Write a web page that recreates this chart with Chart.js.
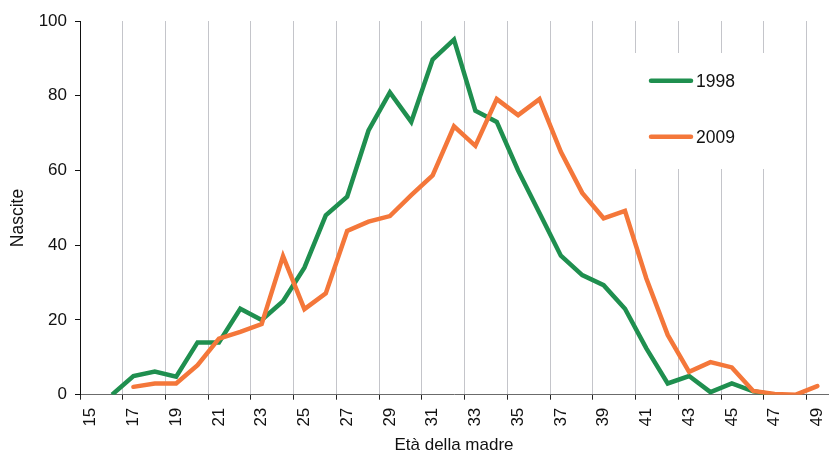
<!DOCTYPE html>
<html>
<head>
<meta charset="utf-8">
<script src="https://cdn.jsdelivr.net/npm/chart.js@4"></script>
<style>
  html, body { margin: 0; padding: 0; background: #fff; }
  #wrap { width: 829px; height: 456px; position: relative; }
</style>
</head>
<body>
<div id="wrap"><canvas id="c" width="829" height="456"></canvas></div>
<script>
const ages = ['15','16','17','18','19','20','21','22','23','24','25','26','27','28','29','30','31','32','33','34','35','36','37','38','39','40','41','42','43','44','45','46','47','48','49'];
const births1998 = [null, 0, 5, 6.2, 4.8, 14, 14, 23, 20, 25, 34, 48, 53, 70.7, 80.9, 73, 89.7, 95, 76, 73, 60, 48.6, 37.2, 32, 29.3, 23, 12.4, 3, 5, 0.7, 3, 0.9, 0, null, null];
const births2009 = [null, null, 2.1, 3, 3, 7.9, 15, 16.8, 18.9, 37.1, 22.9, 27.1, 43.8, 46.3, 47.8, 53.4, 58.7, 71.8, 66.6, 79.1, 74.8, 79.1, 65, 54, 47.2, 49.2, 31.1, 16, 6.1, 8.7, 7.3, 1, 0.2, 0, 2.3];
const yTicks = [0, 20, 40, 60, 80, 100];
const seriesNames = ['1998', '2009'];
const seriesColors = ['#1f8f4f', '#f4773a'];

const FONT = "'Liberation Sans', Arial, Helvetica, sans-serif";

const overlayPlugin = {
  id: 'overlay',
  beforeDatasetsDraw(chart) {
    const ctx = chart.ctx;
    ctx.save();
    ctx.fillStyle = '#ffffff';
    ctx.fillRect(626, 53, 166, 116);
    const items = [{y: 80.7}, {y: 136.7}];
    items.forEach((it, i) => {
      ctx.strokeStyle = seriesColors[i];
      ctx.lineWidth = 4.5;
      ctx.lineCap = 'round';
      ctx.beginPath();
      ctx.moveTo(651, it.y);
      ctx.lineTo(691, it.y);
      ctx.stroke();
      ctx.fillStyle = '#111';
      ctx.font = '17.5px ' + FONT;
      ctx.textAlign = 'left';
      ctx.textBaseline = 'alphabetic';
      ctx.fillText(seriesNames[i], 696, it.y + 6.5);
    });
    ctx.translate(18, 218);
    ctx.rotate(-Math.PI / 2);
    ctx.fillStyle = '#111';
    ctx.font = '17.5px ' + FONT;
    ctx.textAlign = 'center';
    ctx.textBaseline = 'middle';
    ctx.fillText('Nascite', 0, 0);
    ctx.restore();
  }
};

const gridCol = (ctx, c) => (ctx.index !== undefined && ctx.index % 2 === 0) ? c : 'rgba(0,0,0,0)';

new Chart(document.getElementById('c'), {
  type: 'line',
  data: {
    labels: ages,
    datasets: [
      { label: seriesNames[0], data: births1998, borderColor: seriesColors[0], backgroundColor: seriesColors[0], borderWidth: 4.5, pointRadius: 0, tension: 0, order: 1, borderJoinStyle: 'miter', borderCapStyle: 'butt', spanGaps: false },
      { label: seriesNames[1], data: births2009, borderColor: seriesColors[1], backgroundColor: seriesColors[1], borderWidth: 4.5, pointRadius: 0, tension: 0, order: 0, borderJoinStyle: 'miter', borderCapStyle: 'round', spanGaps: false }
    ]
  },
  options: {
    responsive: false,
    animation: false,
    devicePixelRatio: 1,
    layout: { padding: { top: 21, right: 1, left: 0, bottom: 0 } },
    plugins: { legend: { display: false }, tooltip: { enabled: false } },
    scales: {
      x: {
        type: 'category',
        offset: true,
        grid: {
          offset: true,
          drawOnChartArea: true,
          drawTicks: true,
          tickLength: 5,
          lineWidth: 1,
          color: (ctx) => gridCol(ctx, '#c4c5ca'),
          tickColor: (ctx) => gridCol(ctx, '#222')
        },
        border: { display: true, color: '#6b6b6b', width: 1 },
        ticks: {
          autoSkip: false,
          maxRotation: 90,
          minRotation: 90,
          padding: 8,
          color: '#111',
          font: { family: FONT, size: 17 },
          callback: function(val, idx) { return idx % 2 === 0 ? this.getLabelForValue(val) : ''; }
        },
        title: {
          display: true,
          text: 'Età della madre',
          color: '#111',
          font: { family: FONT, size: 17 },
          padding: { top: 0, bottom: 0 }
        },
        afterFit: (s) => { s.height = 61.3; s.paddingLeft = 0; s.paddingRight = 0; }
      },
      y: {
        min: 0,
        max: 100,
        afterBuildTicks: (s) => { s.ticks = yTicks.map(v => ({ value: v })); },
        grid: { drawOnChartArea: false, drawTicks: true, tickLength: 5, tickColor: '#111' },
        border: { display: true, color: '#111', width: 1 },
        ticks: { padding: 8, color: '#111', font: { family: FONT, size: 17 } },
        afterFit: (s) => { s.width = 80; s.paddingTop = 0; s.paddingBottom = 0; }
      }
    }
  },
  plugins: [overlayPlugin]
});
</script>
</body>
</html>
